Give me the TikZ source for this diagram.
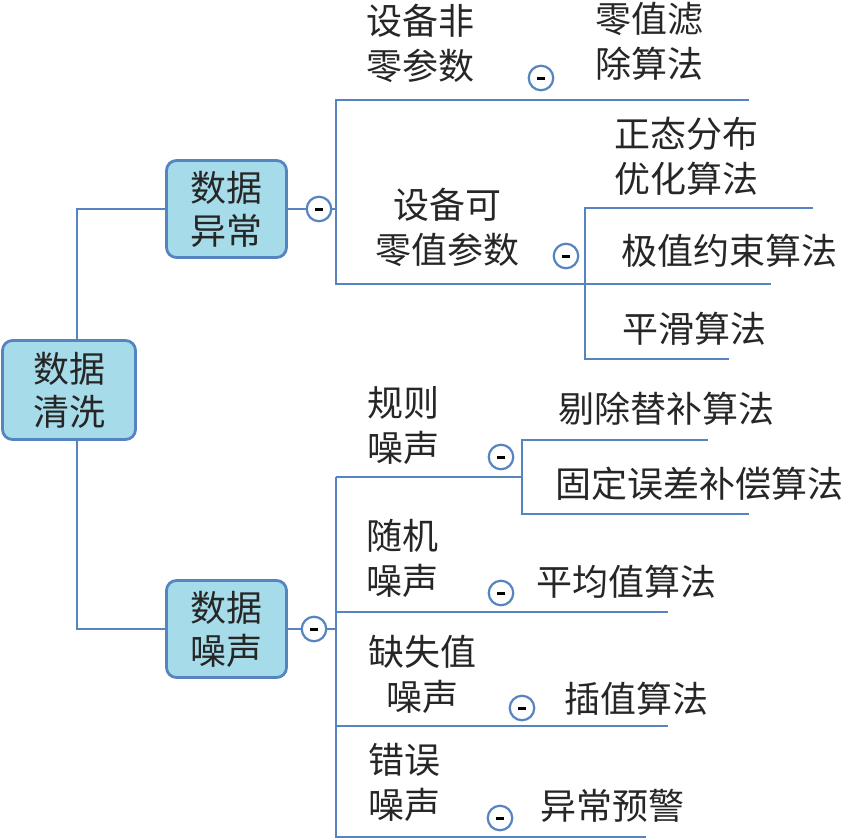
\documentclass[tikz,border=0pt]{standalone}
\usepackage{fontspec}
\newfontfamily\cjk{Noto Sans CJK SC}
\definecolor{lineblue}{RGB}{86,132,192}
\definecolor{boxfill}{RGB}{166,220,234}
\begin{document}
\begin{tikzpicture}[x=1pt,y=-1pt,
  conn/.style={draw=lineblue, line width=2.8pt},
  topicbox/.style={draw=lineblue, fill=boxfill, line width=2.8pt, rounded corners=10pt,
    font=\cjk\fontsize{36}{43}\selectfont, align=center, inner sep=0pt, text=black!85},
  lbl/.style={font=\cjk\fontsize{36}{45}\selectfont, inner sep=0pt, anchor=center, align=center, text=black!85},
  fold/.style={circle, draw=lineblue, fill=white, line width=2.2pt, minimum size=24.5pt, inner sep=0pt}
]
\useasboundingbox (0,0) rectangle (850,839);

% main topics
\node[topicbox, minimum width=133pt, minimum height=99pt] (root) at (69,390) {数据\\清洗};
\node[topicbox, minimum width=120pt, minimum height=97pt] (ab) at (226.5,209) {数据\\异常};
\node[topicbox, minimum width=120pt, minimum height=97pt] (noise) at (226.5,629) {数据\\噪声};

% fold markers
\newcommand{\minusbar}{\rule[-1.5pt]{8.5pt}{3pt}}
\node[fold] (f1) at (319,209) {\minusbar};
\node[fold] (f2) at (314,629) {\minusbar};
\node[fold] (f3) at (541,78) {\minusbar};
\node[fold] (f4) at (566,256) {\minusbar};
\node[fold] (f5) at (501,457) {\minusbar};
\node[fold] (f6) at (501,593) {\minusbar};
\node[fold] (f7) at (522,708) {\minusbar};
\node[fold] (f8) at (500,818) {\minusbar};

% coordinates of the branch lines
\coordinate (v1) at (336,209);
\coordinate (a1) at (336,100);  \coordinate (a1e) at (749,100);
\coordinate (a2) at (336,284);  \coordinate (a2e) at (771,284);
\coordinate (b1) at (585,208);  \coordinate (b1e) at (813,208);
\coordinate (b3) at (585,359);  \coordinate (b3e) at (729,359);
\coordinate (v2) at (336,629);
\coordinate (n1) at (336,477);  \coordinate (cm) at (522,477);
\coordinate (c1) at (522,440);  \coordinate (c1e) at (708,440);
\coordinate (c2) at (522,514);  \coordinate (c2e) at (749,514);
\coordinate (n2) at (336,612);  \coordinate (n2e) at (668,612);
\coordinate (n3) at (336,726);  \coordinate (n3e) at (668,726);
\coordinate (n4) at (336,837);  \coordinate (n4e) at (646,837);

% connectors
\draw[conn] ([xshift=8pt]root.north) |- (ab.west);
\draw[conn] ([xshift=8pt]root.south) |- (noise.west);
\draw[conn] (ab.east) -- (f1.west);
\draw[conn] (f1.east) -- (v1);
\draw[conn] (a1e) -- (a1) -- (a2) -- (a2e);
\draw[conn] (b1e) -- (b1) -- (b3) -- (b3e);
\draw[conn] (noise.east) -- (f2.west);
\draw[conn] (f2.east) -- (v2);
\draw[conn] (n1) -- (n4) -- (n4e);
\draw[conn] (n1) -- (cm);
\draw[conn] (c1e) -- (c1) -- (c2) -- (c2e);
\draw[conn] (n2) -- (n2e);
\draw[conn] (n3) -- (n3e);

% labels
\node[lbl, align=left] (t1) at (420.5,43.5) {设备非\\零参数};
\node[lbl] (t2) at (649,41) {零值滤\\除算法};
\node[lbl] (t3) at (447,227.5) {设备可\\零值参数};
\node[lbl] (t4) at (686.5,156.5) {正态分布\\优化算法};
\node[lbl] (t5) at (729,251) {极值约束算法};
\node[lbl] (t6) at (694.5,328.5) {平滑算法};
\node[lbl, align=left] (t7) at (403.5,426) {规则\\噪声};
\node[lbl] (t8) at (666,408.5) {剔除替补算法};
\node[lbl] (t9) at (699.5,483.5) {固定误差补偿算法};
\node[lbl, align=left] (t10) at (402,558.5) {随机\\噪声};
\node[lbl] (t11) at (626.5,581.5) {平均值算法};
\node[lbl] (t12) at (422,674.5) {缺失值\\噪声};
\node[lbl] (t13) at (636,698.5) {插值算法};
\node[lbl, align=left] (t14) at (404,782.5) {错误\\噪声};
\node[lbl] (t15) at (612,806) {异常预警};
\end{tikzpicture}
\end{document}
